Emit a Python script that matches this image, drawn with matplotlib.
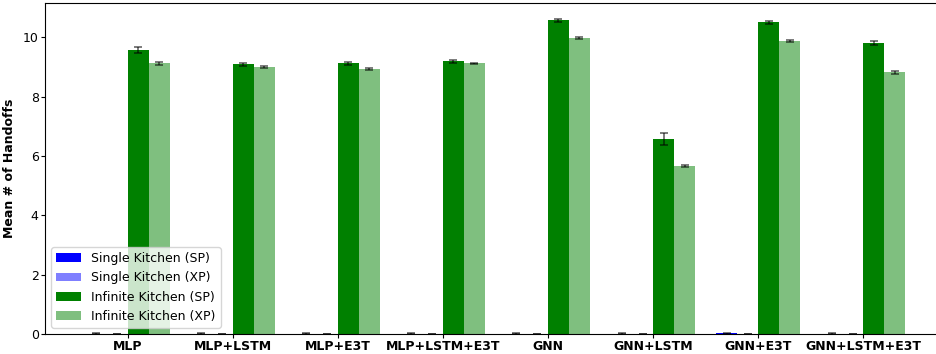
import numpy as np
import matplotlib
matplotlib.use('Agg')
import matplotlib.pyplot as plt

# model names along the x axis
models = ['MLP', 'MLP+LSTM', 'MLP+E3T', 'MLP+LSTM+E3T',
          'GNN', 'GNN+LSTM', 'GNN+E3T', 'GNN+LSTM+E3T']

# mean handoffs per setting
single_sp = [0.02, 0.02, 0.02, 0.02, 0.02, 0.02, 0.03, 0.02]
single_xp = [0.01, 0.01, 0.01, 0.01, 0.01, 0.01, 0.01, 0.01]
infinite_sp = [9.56, 9.09, 9.12, 9.19, 10.57, 6.57, 10.51, 9.80]
infinite_xp = [9.12, 8.99, 8.92, 9.12, 9.97, 5.66, 9.87, 8.82]

# standard errors
single_sp_err = [0.01, 0.01, 0.01, 0.01, 0.01, 0.01, 0.01, 0.01]
single_xp_err = [0.01, 0.01, 0.01, 0.01, 0.01, 0.01, 0.01, 0.01]
infinite_sp_err = [0.10, 0.05, 0.06, 0.05, 0.06, 0.20, 0.05, 0.06]
infinite_xp_err = [0.04, 0.03, 0.03, 0.02, 0.03, 0.04, 0.03, 0.04]

x = np.arange(len(models))
w = 0.2
ekw = dict(ecolor='black', capsize=3, error_kw=dict(alpha=0.6, elinewidth=1.2, capthick=1.2))

fig, ax = plt.subplots(figsize=(9.37, 3.54), dpi=100)
ax.bar(x - 1.5 * w, single_sp, w, yerr=single_sp_err, color='blue', label='Single Kitchen (SP)', **ekw)
ax.bar(x - 0.5 * w, single_xp, w, yerr=single_xp_err, color='blue', alpha=0.5, label='Single Kitchen (XP)', **ekw)
ax.bar(x + 0.5 * w, infinite_sp, w, yerr=infinite_sp_err, color='green', label='Infinite Kitchen (SP)', **ekw)
ax.bar(x + 1.5 * w, infinite_xp, w, yerr=infinite_xp_err, color='green', alpha=0.5, label='Infinite Kitchen (XP)', **ekw)

ax.set_xticks(x)
ax.set_xticklabels(models, fontweight='bold', fontsize=9)
ax.set_ylabel('Mean # of Handoffs', fontweight='bold', fontsize=9, labelpad=5)
ax.tick_params(axis='y', labelsize=9, length=3, pad=1.5)
ax.tick_params(axis='x', length=3, pad=1)
ax.legend(loc='lower left', fontsize=9)

# right edge of the axes runs past the figure like in the reference crop
fig.subplots_adjust(left=0.048, right=1.0096, top=0.992, bottom=0.056)
fig.savefig('out.png', dpi=100)
